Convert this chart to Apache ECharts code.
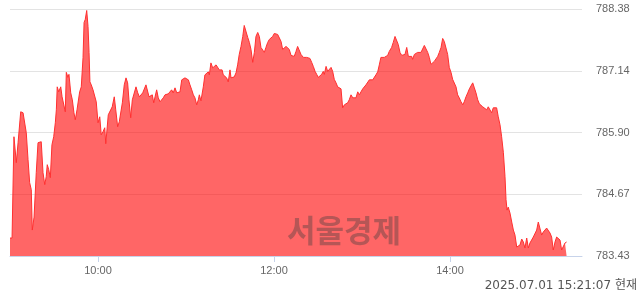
<!DOCTYPE html>
<html>
<head>
<meta charset="utf-8">
<script src="https://cdn.jsdelivr.net/npm/echarts@6/dist/echarts.min.js"></script>
<style>
html,body{margin:0;padding:0;background:#fff;}
#chart{width:640px;height:294px;}
</style>
</head>
<body>
<div id="chart"></div>
<script>
// minutes elapsed since 09:00
var minutes = [0,1.4,2.7,3.6,4.3,5.5,7.3,8.9,10.0,11.1,12.3,13.4,14.5,15.2,16.4,17.9,19.1,20.2,21.3,22.5,23.7,24.7,25.4,26.4,27.5,28.6,29.8,30.9,31.6,32.2,33.2,34.6,35.5,36.8,37.7,38.4,39.5,40.2,41.4,42.5,43.6,44.5,45.7,46.6,47.5,48.6,49.8,50.5,51.3,52.3,53.2,53.9,54.5,55.4,56.6,57.7,58.8,60.0,61.2,62.2,63.4,64.6,65.3,
67.0,68.2,69.7,71.1,72.1,73.4,74.5,75.5,76.6,77.9,79.1,80.2,81.1,82.3,83.4,84.7,85.9,87.1,88.2,89.3,90.5,91.6,92.7,93.9,94.8,95.9,97.0,98.0,98.9,100.0,101.1,102.3,103.4,104.5,105.7,106.8,107.9,109.1,110.2,111.3,112.5,113.7,114.7,115.9,117.1,118.2,119.3,120.5,121.6,122.7,123.9,125.0,126.1,127.3,128.4,129.1,130.2,131.8,132.9,134.1,135.2,135.9,137.0,138.2,139.3,140.5,141.6,142.7,143.9,144.6,145.4,146.6,147.7,148.8,150.0,150.7,151.8,152.9,154.1,155.2,156.3,157.5,158.7,159.7,160.9,162.1,163.2,164.3,165.5,166.6,167.7,168.9,170.0,171.1,172.3,173.4,174.5,175.7,176.8,178.0,179.1,180.2,181.4,182.5,183.6,184.8,185.9,187.0,188.2,189.3,190.4,191.6,192.7,193.8,195.0,196.1,197.2,198.4,200.0,201.1,202.3,203.4,204.5,205.7,206.8,208.0,209.1,210.2,211.4,212.5,213.6,214.3,215.5,216.6,217.7,218.9,220.0,221.1,222.3,223.4,224.5,225.7,226.8,228.0,229.1,230.2,231.3,232.5,233.7,234.7,235.9,237.1,238.2,239.3,240.5,241.6,242.7,243.9,245.0,246.1,247.3,248.4,249.5,250.7,251.8,252.9,254.1,255.2,256.4,257.5,258.6,260.2,261.3,262.5,263.7,264.7,265.9,267.1,268.2,269.3,270.5,271.6,272.7,273.9,274.5,275.7,276.8,277.9,279.1,280.2,281.4,282.5,283.6,284.8,285.9,287.0,288.2,289.3,290.4,291.6,292.7,293.9,295.0,296.1,297.3,298.4,299.5,300.7,301.8,302.9,304.1,305.2,306.3,307.5,308.7,309.7,310.9,312.1,313.2,314.3,315.5,316.6,317.7,318.9,320.0,321.1,322.3,323.4,325.0,326.1,327.3,328.4,329.5,330.7,331.8,332.9,334.1,335.2,336.4,337.5,338.2,338.9,339.7,340.9,342.1,343.2,344.3,345.5,346.6,347.7,348.9,350.0,351.1,352.3,353.4,354.5,355.7,356.8,357.9,359.1,360.2,361.4,362.5,363.6,364.8,365.9,367.0,368.2,369.3,370.4,371.6,372.7,373.8,375.0,376.1,377.2,378.4,379.5];

var prices = [783.79,783.79,785.82,785.82,785.30,785.70,786.32,786.30,786.26,785.90,785.36,784.90,784.76,783.95,784.21,785.10,785.70,785.70,785.72,785.10,784.86,785.02,785.26,785.16,785.00,785.66,785.82,786.10,786.36,786.82,786.72,786.82,786.62,786.62,786.32,787.11,787.01,787.07,786.70,786.56,786.30,786.16,786.36,786.40,786.72,786.82,787.41,788.11,788.17,788.35,788.03,787.51,786.92,786.86,786.76,786.72,786.52,786.10,786.22,785.86,785.92,786.00,785.68,
786.26,786.22,786.42,786.62,786.36,786.02,786.12,786.10,786.50,786.86,787.00,786.90,786.56,786.20,786.56,786.60,786.82,786.70,786.62,786.60,786.70,786.72,786.86,786.82,786.62,786.66,786.66,786.50,786.62,786.76,786.60,786.52,786.52,786.60,786.66,786.62,786.68,786.72,786.76,786.70,786.80,786.70,786.72,786.72,786.96,786.98,787.00,786.96,786.96,786.86,786.76,786.66,786.60,786.46,786.56,786.66,786.54,786.82,787.06,787.10,787.12,787.06,787.30,787.20,787.22,787.26,787.26,787.16,787.12,787.16,787.06,787.02,787.00,786.92,787.16,787.00,787.02,787.02,787.10,787.26,787.47,787.63,787.83,788.05,788.03,787.81,787.71,787.57,787.31,787.51,787.83,787.91,787.83,787.61,787.57,787.51,787.61,787.71,787.77,787.77,787.83,787.89,787.87,787.87,787.87,787.73,787.57,787.61,787.63,787.67,787.57,787.45,787.43,787.43,787.53,787.63,787.63,787.47,787.41,787.37,787.41,787.43,787.39,787.31,787.23,787.13,787.07,787.01,786.97,787.07,787.13,787.07,787.23,787.13,787.17,787.21,787.13,786.97,786.90,786.82,786.80,786.78,786.40,786.46,786.50,786.50,786.56,786.66,786.60,786.58,786.60,786.72,786.66,786.72,786.78,786.76,786.86,786.90,786.96,786.98,786.96,787.00,787.06,787.12,787.26,787.41,787.39,787.41,787.41,787.45,787.53,787.61,787.71,787.83,787.79,787.67,787.51,787.45,787.45,787.47,787.61,787.43,787.43,787.43,787.37,787.47,787.51,787.51,787.51,787.51,787.53,787.65,787.63,787.51,787.41,787.27,787.27,787.33,787.37,787.43,787.51,787.61,787.79,787.73,787.71,787.47,787.21,787.11,786.97,786.97,786.82,786.66,786.60,786.52,786.46,786.52,786.62,786.70,786.78,786.80,786.90,786.80,786.70,786.56,786.48,786.50,786.42,786.46,786.36,786.42,786.38,786.30,786.40,786.44,786.40,786.22,786.06,785.82,785.50,785.02,784.56,784.35,784.41,784.29,784.11,783.95,783.85,783.61,783.65,783.65,783.77,783.71,783.59,783.79,783.59,783.69,783.71,783.81,783.77,783.95,784.11,784.09,783.85,783.91,783.95,783.99,783.95,783.89,783.81,783.55,783.71,783.81,783.85,783.75,783.55,783.55,783.69,783.71];

var yTicks = [783.43, 784.67, 785.90, 787.14, 788.38];
var xTickMinutes = [60, 180, 300];   // 10:00, 12:00, 14:00
var watermarkText = '서울경제';
var stampText = '2025.07.01 15:21:07 현재';

var seriesData = minutes.map(function (m, i) { return [m, prices[i]]; });

function fmtTime(m) {
  var h = 9 + Math.floor(m / 60);
  var mm = Math.round(m % 60);
  return (h < 10 ? '0' + h : '' + h) + ':' + (mm < 10 ? '0' + mm : '' + mm);
}

var chart = echarts.init(document.getElementById('chart'), null, {renderer: 'canvas'});
chart.setOption({
  animation: false,
  backgroundColor: '#ffffff',
  grid: {left: 10, right: 58, top: 9, bottom: 38, containLabel: false},
  xAxis: {
    type: 'value',
    min: 0,
    max: 390,
    axisLine: {show: true, lineStyle: {color: '#c7d3ea', width: 1}},
    axisTick: {show: true, customValues: xTickMinutes, length: 6, lineStyle: {color: '#c7d3ea'}},
    axisLabel: {
      show: true, customValues: xTickMinutes, margin: 9,
      color: '#666', fontSize: 11, fontFamily: 'Liberation Sans',
      formatter: function (v) { return fmtTime(v); }
    },
    splitLine: {show: false}
  },
  yAxis: {
    type: 'value',
    position: 'right',
    min: yTicks[0],
    max: yTicks[yTicks.length - 1],
    axisLine: {show: false},
    axisTick: {show: false, customValues: yTicks},
    axisLabel: {
      show: true, customValues: yTicks, margin: 14,
      color: '#666', fontSize: 11, fontFamily: 'Liberation Sans',
      formatter: function (v) { return v.toFixed(2); }
    },
    splitLine: {show: true, lineStyle: {color: '#e3e3e3', width: 1}}
  },
  graphic: [
    {
      type: 'text', z: 100,
      left: 287, top: 215,
      style: {text: watermarkText, fill: 'rgba(60,60,60,0.38)', font: 'bold 31px "Noto Sans CJK KR"'}
    },
    {
      type: 'text', z: 100,
      right: 3, top: 280,
      style: {text: stampText, fill: '#555', font: '12px "DejaVu Sans", "Noto Sans CJK KR"'}
    }
  ],
  series: [{
    type: 'line',
    data: seriesData,
    showSymbol: false,
    symbol: 'none',
    smooth: false,
    lineStyle: {color: '#ff3030', width: 1},
    areaStyle: {color: '#ff0000', opacity: 0.6, origin: 'start'}
  }]
});
</script>
</body>
</html>
